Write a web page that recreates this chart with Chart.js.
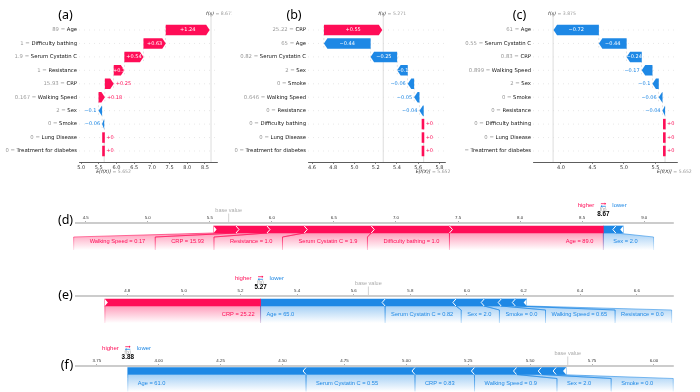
<!DOCTYPE html>
<html><head><meta charset="utf-8">
<script src="https://cdn.jsdelivr.net/npm/chart.js@4.4.1/dist/chart.umd.min.js"></script>
<style>
html,body{margin:0;padding:0;background:#fff;width:700px;height:392px;overflow:hidden;position:relative}
canvas{position:absolute}
.pl{position:absolute;font-family:"Noto Sans",sans-serif;font-size:12.5px;color:#000;line-height:1;transform:translate(-50%,-50%);white-space:nowrap}
</style></head><body>
<canvas id="cA" width="232" height="182" style="left:0;top:0"></canvas>
<canvas id="cB" width="233" height="182" style="left:232px;top:0"></canvas>
<canvas id="cC" width="235" height="182" style="left:465px;top:0"></canvas>
<canvas id="cD" width="700" height="80" style="left:0;top:180px"></canvas>
<canvas id="cE" width="700" height="70" style="left:0;top:260px"></canvas>
<canvas id="cF" width="700" height="66" style="left:0;top:326px"></canvas>
<div class="pl" style="left:65.5px;top:14.5px">(a)</div>
<div class="pl" style="left:294px;top:14.5px">(b)</div>
<div class="pl" style="left:519.5px;top:14.5px">(c)</div>
<div class="pl" style="left:65.5px;top:220px">(d)</div>
<div class="pl" style="left:65.5px;top:295px">(e)</div>
<div class="pl" style="left:67px;top:365px">(f)</div>
<script>
// ---------- DATA ----------
const baseValue = 5.652;
// patient 1 : panels (a) and (d)
const features1 = ["Age","Difficulty bathing","Serum Cystatin C","Resistance","CRP","Walking Speed","Sex","Smoke","Lung Disease","Treatment for diabetes"];
const featureValues1 = [89, 1, 1.9, 1, 15.93, 0.167, 2, 0, 0, 0];
const shap1 = [1.24, 0.63, 0.54, 0.3, 0.25, 0.18, -0.1, -0.06, 0, 0];
const fx1 = 8.671;
// patient 2 : panels (b) and (e)
const features2 = ["CRP","Age","Serum Cystatin C","Sex","Smoke","Walking Speed","Resistance","Difficulty bathing","Lung Disease","Treatment for diabetes"];
const featureValues2 = [25.22, 65, 0.82, 2, 0, 0.646, 0, 0, 0, 0];
const shap2 = [0.55, -0.44, -0.25, -0.1, -0.06, -0.05, -0.04, 0, 0, 0];
const fx2 = 5.271;
// patient 3 : panels (c) and (f)
const features3 = ["Age","Serum Cystatin C","CRP","Walking Speed","Sex","Smoke","Resistance","Difficulty bathing","Lung Disease","Treatment for diabetes"];
const featureValues3 = [61, 0.55, 0.83, 0.899, 2, 0, 0, 0, 0, 0];
const shap3 = [-0.72, -0.44, -0.24, -0.17, -0.1, -0.06, -0.04, 0, 0, 0];
const fx3 = 3.875;
// tick labels
const ticksA = ["5.0","5.5","6.0","6.5","7.0","7.5","8.0","8.5"];
const ticksB = ["4.6","4.8","5.0","5.2","5.4","5.6","5.8"];
const ticksC = ["4.0","4.5","5.0","5.5"];
const ticksD = ["4.5","5.0","5.5","6.0","6.5","7.0","7.5","8.0","8.5","9.0"];
const ticksE = ["4.8","5.0","5.2","5.4","5.6","5.8","6.0","6.2","6.4","6.6"];
const ticksF = ["3.75","4.00","4.25","4.50","4.75","5.00","5.25","5.50","5.75","6.00"];

// ---------- HELPERS ----------
const RED = '#ff0d57', BLUE = '#1e88e5';
const RED_RGB = '255,13,87', BLUE_RGB = '30,136,229';
const FW = '"DejaVu Sans", sans-serif';
const FF = '"Liberation Sans", Arial, sans-serif';
function fmtW(v){ return String(Number(v.toFixed(3))); }
function fmtF(v){ let s = String(Number(v.toFixed(2))); if (s.indexOf('.') < 0) s += '.0'; return s; }
function fmtS(v){ return (v < 0 ? '\u2212' : '+') + String(Number(Math.abs(v).toFixed(2))); }

function tickCfg(labels, font, color){
  const vals = labels.map(Number);
  return {
    afterBuildTicks: s => { s.ticks = vals.map(v => ({value: v})); },
    ticks: {callback: (v, i) => labels[i], font: font, color: color, padding: 1, maxRotation: 0, autoSkip: false}
  };
}

// ---------- WATERFALL ----------
function makeWaterfall(id, feats, vals, shap, fx, tickLabels, o){
  const n = feats.length, ranges = [];
  let loc = baseValue;
  for (let i = n - 1; i >= 0; i--) { ranges[i] = [loc, loc + shap[i]]; loc += shap[i]; }
  const points = ranges.map((r, i) => ({y: i, x: r}));
  const tc = tickCfg(tickLabels, {family: FW, size: 5}, '#333');
  const plugin = {
    id: 'wf' + id,
    beforeDatasetsDraw(chart){
      const {ctx, chartArea: ca, scales: {x: xs, y: ys}} = chart;
      ctx.save();
      ctx.lineWidth = 0.5; ctx.strokeStyle = '#d0d0d0'; ctx.setLineDash([1, 4]);
      for (let i = 0; i < n; i++) { const y = ys.getPixelForValue(i); ctx.beginPath(); ctx.moveTo(ca.left, y); ctx.lineTo(ca.right, y); ctx.stroke(); }
      ctx.setLineDash([2, 2]); ctx.strokeStyle = '#c8c8c8';
      for (let i = 0; i < n - 1; i++) {
        const xp = xs.getPixelForValue(ranges[i][0]);
        ctx.beginPath(); ctx.moveTo(xp, ys.getPixelForValue(i) - 4); ctx.lineTo(xp, ys.getPixelForValue(i + 1) + 4); ctx.stroke();
      }
      ctx.setLineDash([]);
      ctx.strokeStyle = '#d4d4d4'; ctx.lineWidth = 0.8;
      const fxp = xs.getPixelForValue(fx);
      ctx.beginPath(); ctx.moveTo(fxp, ca.top); ctx.lineTo(fxp, ca.bottom); ctx.stroke();
      const bp = xs.getPixelForValue(baseValue);
      ctx.beginPath(); ctx.moveTo(bp, ys.getPixelForValue(n - 1.6)); ctx.lineTo(bp, ca.bottom); ctx.stroke();
      ctx.restore();
    },
    afterDatasetsDraw(chart){
      const {ctx, chartArea: ca, scales: {x: xs, y: ys}} = chart;
      const meta = chart.getDatasetMeta(0);
      ctx.save();
      ctx.textBaseline = 'middle';
      for (let i = 0; i < n; i++) {
        const el = meta.data[i];
        const yc = ys.getPixelForValue(i), h = el.height || 10.5;
        const x0 = xs.getPixelForValue(ranges[i][0]), x1 = xs.getPixelForValue(ranges[i][1]);
        const v = shap[i], col = v >= 0 ? RED : BLUE;
        const top = yc - h / 2, bot = yc + h / 2;
        ctx.fillStyle = col;
        const w = Math.abs(x1 - x0);
        if (v === 0) { ctx.fillRect(x0 - 2, top, 2.6, h); }
        else {
          const dir = Math.sign(x1 - x0), head = Math.min(w, 3.5), xh = x1 - dir * head;
          ctx.beginPath(); ctx.moveTo(x0, top); ctx.lineTo(xh, top); ctx.lineTo(x1, yc); ctx.lineTo(xh, bot); ctx.lineTo(x0, bot); ctx.closePath(); ctx.fill();
        }
        ctx.font = '5px ' + FW;
        const txt = fmtS(v), tw = ctx.measureText(txt).width;
        if (v !== 0 && w >= tw - 3.5) { ctx.fillStyle = '#fff'; ctx.textAlign = 'center'; ctx.fillText(txt, (x0 + x1) / 2, yc); }
        else if (v >= 0) { ctx.fillStyle = col; ctx.textAlign = 'left'; ctx.fillText(txt, Math.max(x0, x1) + 2, yc); }
        else { ctx.fillStyle = col; ctx.textAlign = 'right'; ctx.fillText(txt, Math.min(x0, x1) - 2, yc); }
      }
      // y labels
      ctx.font = '5.3px ' + FW; ctx.textAlign = 'right';
      const xr = ca.left - 2;
      for (let i = 0; i < n; i++) {
        const y = ys.getPixelForValue(i);
        ctx.fillStyle = '#111'; ctx.fillText(feats[i], xr, y);
        const wn = ctx.measureText(feats[i]).width;
        ctx.fillStyle = '#999'; ctx.fillText(fmtW(vals[i]) + ' = ', xr - wn, y);
      }
      // f(x) and E[f(X)]
      ctx.textAlign = 'left';
      const fxp = xs.getPixelForValue(fx), bp = xs.getPixelForValue(baseValue);
      const yt = ca.top - 2.5, yb = ca.bottom + 10;
      ctx.font = 'italic 4.6px ' + FW; ctx.fillStyle = '#222'; ctx.fillText('f(x)', fxp - 5, yt);
      let w1 = ctx.measureText('f(x)').width;
      ctx.font = '4.6px ' + FW; ctx.fillStyle = '#999'; ctx.fillText(' = ' + fx.toFixed(3), fxp - 5 + w1, yt);
      ctx.font = 'italic 4.6px ' + FW; ctx.fillStyle = '#222'; ctx.fillText('E[f(X)]', bp - 8, yb);
      w1 = ctx.measureText('E[f(X)]').width;
      ctx.font = '4.6px ' + FW; ctx.fillStyle = '#999'; ctx.fillText(' = ' + baseValue.toFixed(3), bp - 8 + w1, yb);
      ctx.strokeStyle = '#555'; ctx.lineWidth = 0.6;
      ctx.beginPath(); ctx.moveTo(fxp, ca.top); ctx.lineTo(fxp, ca.top - 1.5); ctx.stroke();
      ctx.restore();
    }
  };
  new Chart(document.getElementById(id), {
    type: 'bar',
    data: {datasets: [{data: points, backgroundColor: 'rgba(0,0,0,0)', borderWidth: 0, barThickness: 10.5}]},
    options: {
      indexAxis: 'y', responsive: false, animation: false, events: [],
      layout: {padding: o.pad},
      plugins: {legend: {display: false}, tooltip: {enabled: false}},
      scales: {
        x: {type: 'linear', position: 'bottom', min: o.min, max: o.max, offset: false,
            afterBuildTicks: tc.afterBuildTicks, afterFit: s => { s.height = 10; },
            ticks: tc.ticks,
            grid: {display: true, drawOnChartArea: false, drawTicks: true, tickLength: 2, color: '#333', lineWidth: 0.6},
            border: {display: true, color: '#333', width: 0.8}},
        y: {type: 'linear', min: -1, max: 9.818, reverse: true, offset: false, display: false}
      }
    },
    plugins: [plugin]
  });
}

// ---------- FORCE ----------
function makeForce(id, feats, vals, shap, fx, tickLabels, o){
  const total = shap.reduce((a, b) => a + Math.abs(b), 0);
  const idx = feats.map((_, i) => i).filter(i => shap[i] !== 0);
  const pos = idx.filter(i => shap[i] > 0).sort((a, b) => shap[b] - shap[a]);
  const neg = idx.filter(i => shap[i] < 0).sort((a, b) => shap[a] - shap[b]);
  const redSegs = [], blueSegs = [];
  let c = fx;
  pos.forEach(i => { redSegs.push({i, lo: c - shap[i], hi: c}); c -= shap[i]; });
  c = fx;
  neg.forEach(i => { blueSegs.push({i, lo: c, hi: c - shap[i]}); c -= shap[i]; });
  const datasets = redSegs.map(s => ({data: [[s.lo, s.hi]], backgroundColor: RED}))
    .concat(blueSegs.map(s => ({data: [[s.lo, s.hi]], backgroundColor: BLUE})))
    .map(d => Object.assign(d, {grouped: false, barThickness: 7, borderWidth: 0}));
  const tc = tickCfg(tickLabels, {family: FF, size: 4.4}, '#333');
  const labelText = i => feats[i] + ' = ' + fmtF(vals[i]);
  const show = i => Math.abs(shap[i]) >= 0.025 * total;
  const plugin = {
    id: 'fp' + id,
    beforeDatasetsDraw(chart){
      const {ctx, scales: {x: xs}} = chart;
      const el = chart.getDatasetMeta(0).data[0];
      const yc = el.y, h = el.height || 7, bb = yc + h / 2, dy = 4, lb = bb + 17;
      ctx.save();
      ctx.font = '5.7px ' + FF; ctx.textBaseline = 'middle';
      const boxes = [];
      let prev = xs.getPixelForValue(fx);
      redSegs.forEach(s => {
        if (!show(s.i)) return;
        const txt = labelText(s.i), tw = ctx.measureText(txt).width;
        const sL = xs.getPixelForValue(s.lo), sR = xs.getPixelForValue(s.hi);
        const bR = Math.min(sR, prev), bL = Math.min(sL, bR - tw - o.lpad);
        prev = bL;
        boxes.push({sL, sR, bL, bR, txt, rgb: RED_RGB, col: RED, tx: bR - o.inset, align: 'right'});
      });
      prev = xs.getPixelForValue(fx);
      blueSegs.forEach(s => {
        if (!show(s.i)) return;
        const txt = labelText(s.i), tw = ctx.measureText(txt).width;
        const sL = xs.getPixelForValue(s.lo), sR = xs.getPixelForValue(s.hi);
        const bL = Math.max(sL, prev), bR = Math.max(sR, bL + tw + o.lpad);
        prev = bR;
        boxes.push({sL, sR, bL, bR, txt, rgb: BLUE_RGB, col: BLUE, tx: bL + o.inset, align: 'left'});
      });
      boxes.forEach(b => {
        const g = ctx.createLinearGradient(0, bb, 0, lb);
        g.addColorStop(0, 'rgba(' + b.rgb + ',0.4)'); g.addColorStop(1, 'rgba(' + b.rgb + ',0)');
        ctx.fillStyle = g;
        ctx.beginPath(); ctx.moveTo(b.sL, bb); ctx.lineTo(b.sR, bb); ctx.lineTo(b.bR, bb + dy); ctx.lineTo(b.bR, lb); ctx.lineTo(b.bL, lb); ctx.lineTo(b.bL, bb + dy); ctx.closePath(); ctx.fill();
        const gs = ctx.createLinearGradient(0, bb, 0, lb);
        gs.addColorStop(0, 'rgba(' + b.rgb + ',0.8)'); gs.addColorStop(1, 'rgba(' + b.rgb + ',0.15)');
        ctx.strokeStyle = gs; ctx.lineWidth = 0.8;
        ctx.beginPath(); ctx.moveTo(b.sL, bb); ctx.lineTo(b.bL, bb + dy); ctx.lineTo(b.bL, lb); ctx.stroke();
        ctx.beginPath(); ctx.moveTo(b.sR, bb); ctx.lineTo(b.bR, bb + dy); ctx.lineTo(b.bR, lb); ctx.stroke();
        ctx.fillStyle = b.col; ctx.textAlign = b.align;
        ctx.fillText(b.txt, b.tx, bb + 8.5);
      });
      ctx.restore();
    },
    afterDatasetsDraw(chart){
      const {ctx, chartArea: ca, scales: {x: xs}} = chart;
      const el = chart.getDatasetMeta(0).data[0];
      const yc = el.y, h = el.height || 7, top = yc - h / 2, bot = yc + h / 2, t = 3;
      ctx.save();
      ctx.strokeStyle = '#fff'; ctx.fillStyle = '#fff'; ctx.lineWidth = 1;
      redSegs.forEach((s, k) => {
        const b = xs.getPixelForValue(s.lo);
        ctx.beginPath(); ctx.moveTo(b, top); ctx.lineTo(b + t, yc); ctx.lineTo(b, bot);
        if (k === redSegs.length - 1) { ctx.closePath(); ctx.fill(); } else ctx.stroke();
      });
      blueSegs.forEach((s, k) => {
        const b = xs.getPixelForValue(s.hi);
        ctx.beginPath(); ctx.moveTo(b, top); ctx.lineTo(b - t, yc); ctx.lineTo(b, bot);
        if (k === blueSegs.length - 1) { ctx.closePath(); ctx.fill(); } else ctx.stroke();
      });
      // base value
      const bp = xs.getPixelForValue(baseValue);
      ctx.strokeStyle = '#c8c8c8'; ctx.lineWidth = 0.8;
      ctx.beginPath(); ctx.moveTo(bp, ca.top - 9.5); ctx.lineTo(bp, ca.top - 1); ctx.stroke();
      ctx.textAlign = 'center'; ctx.textBaseline = 'middle';
      ctx.font = '5.5px ' + FF; ctx.fillStyle = '#aaa';
      ctx.fillText('base value', bp, ca.top - 13);
      // higher / lower
      const fxp = xs.getPixelForValue(fx);
      ctx.font = '6px ' + FF;
      ctx.textAlign = 'right'; ctx.fillStyle = RED; ctx.fillText('higher', fxp - 9, ca.top - 18);
      ctx.textAlign = 'left'; ctx.fillStyle = BLUE; ctx.fillText('lower', fxp + 9, ca.top - 18);
      ctx.lineWidth = 0.8;
      ctx.strokeStyle = RED; ctx.fillStyle = RED;
      ctx.beginPath(); ctx.moveTo(fxp - 2.5, ca.top - 19.3); ctx.lineTo(fxp + 2, ca.top - 19.3); ctx.stroke();
      ctx.beginPath(); ctx.moveTo(fxp + 2.8, ca.top - 19.3); ctx.lineTo(fxp + 1.3, ca.top - 20.6); ctx.lineTo(fxp + 1.3, ca.top - 18); ctx.closePath(); ctx.fill();
      ctx.strokeStyle = BLUE; ctx.fillStyle = BLUE;
      ctx.beginPath(); ctx.moveTo(fxp + 2.5, ca.top - 16.7); ctx.lineTo(fxp - 2, ca.top - 16.7); ctx.stroke();
      ctx.beginPath(); ctx.moveTo(fxp - 2.8, ca.top - 16.7); ctx.lineTo(fxp - 1.3, ca.top - 18); ctx.lineTo(fxp - 1.3, ca.top - 15.4); ctx.closePath(); ctx.fill();
      ctx.textAlign = 'center';
      ctx.font = '4.5px ' + FF; ctx.fillStyle = '#999'; ctx.fillText('f(x)', fxp, ca.top - 13);
      ctx.font = 'bold 6.3px ' + FF; ctx.fillStyle = '#000'; ctx.fillText(fx.toFixed(2), fxp, ca.top - 8.3);
      ctx.restore();
    }
  };
  new Chart(document.getElementById(id), {
    type: 'bar',
    data: {labels: [''], datasets},
    options: {
      indexAxis: 'y', responsive: false, animation: false, events: [],
      layout: {padding: o.pad},
      plugins: {legend: {display: false}, tooltip: {enabled: false}},
      scales: {
        x: {type: 'linear', position: 'top', min: o.min, max: o.max, offset: false,
            afterBuildTicks: tc.afterBuildTicks, afterFit: s => { s.height = 10; },
            ticks: tc.ticks,
            grid: {display: true, drawOnChartArea: false, drawTicks: true, tickLength: 2, color: '#777', lineWidth: 0.6},
            border: {display: true, color: '#cccccc', width: 2}},
        y: {display: false}
      }
    },
    plugins: [plugin]
  });
}

makeWaterfall('cA', features1, featureValues1, shap1, fx1, ticksA, {min: 4.94, max: 8.84, pad: {left: 79, right: 15, top: 16.56, bottom: 10}});
makeWaterfall('cB', features2, featureValues2, shap2, fx2, ticksB, {min: 4.562, max: 5.853, pad: {left: 76, right: 20, top: 16.56, bottom: 10}});
makeWaterfall('cC', features3, featureValues3, shap3, fx3, ticksC, {min: 3.556, max: 5.842, pad: {left: 68, right: 23, top: 16.56, bottom: 10}});
makeForce('cD', features1, featureValues1, shap1, fx1, ticksD, {min: 4.422, max: 9.232, lpad: 26, inset: 10, pad: {left: 76, right: 27, top: 33, bottom: 24}});
makeForce('cE', features2, featureValues2, shap2, fx2, ticksE, {min: 4.619, max: 6.728, lpad: 14, inset: 6, pad: {left: 76, right: 27, top: 26, bottom: 21}});
makeForce('cF', features3, featureValues3, shap3, fx3, ticksF, {min: 3.666, max: 6.077, lpad: 30, inset: 10, pad: {left: 76, right: 27, top: 30, bottom: 16}});
</script>
</body></html>
